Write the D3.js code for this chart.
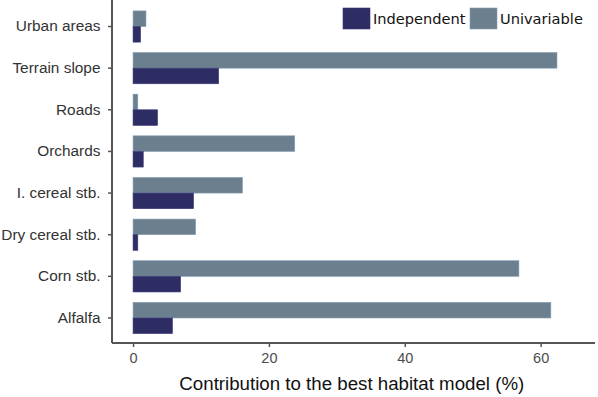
<!DOCTYPE html>
<html lang="en">
<head>
<meta charset="utf-8">
<title>Contribution to the best habitat model</title>
<script src="https://cdn.jsdelivr.net/npm/d3@7"></script>
<style>
  body { margin: 0; background: #fff; }
  svg { display: block; }
</style>
</head>
<body>
<script>
// categories, top to bottom
var categories = ["Urban areas", "Terrain slope", "Roads", "Orchards",
                  "I. cereal stb.", "Dry cereal stb.", "Corn stb.", "Alfalfa"];
var univariable = [1.9, 62.4, 0.7, 23.8, 16.1, 9.2, 56.8, 61.5];
var independent = [1.1, 12.6, 3.6, 1.5, 8.9, 0.7, 7.0, 5.8];
var seriesNames = ["Independent", "Univariable"];
var xTicks = [0, 20, 40, 60];

var w = 598, h = 397;
var colors = { Independent: "#2e2d63", Univariable: "#6b7f8f" };

var svg = d3.select("body").append("svg")
  .attr("width", w)
  .attr("height", h);

// scales
var xScale = d3.scaleLinear().domain([-3.1, 68]).range([112, 595]);
var yScale = d3.scaleBand().domain(categories).range([5.7, 338.8]).paddingInner(0.25).paddingOuter(0.125);
var sub = d3.scaleBand().domain(["Univariable", "Independent"]).range([0, yScale.bandwidth()]);

var rows = categories.map(function(c, i) {
  return { cat: c, Univariable: univariable[i], Independent: independent[i] };
});

// bars
var groups = svg.append("g").selectAll("g")
  .data(rows)
  .enter()
  .append("g")
  .attr("transform", function(d) { return "translate(0," + yScale(d.cat) + ")"; });

groups.selectAll("rect")
  .data(function(d) {
    return ["Univariable", "Independent"].map(function(k) { return { key: k, value: d[k] }; });
  })
  .enter()
  .append("rect")
  .attr("x", xScale(0))
  .attr("y", function(d) { return sub(d.key); })
  .attr("width", function(d) { return xScale(d.value) - xScale(0); })
  .attr("height", sub.bandwidth())
  .attr("fill", function(d) { return colors[d.key]; })
  .attr("stroke", function(d) { return d3.color(colors[d.key]).brighter(0.6); })
  .attr("stroke-width", 0.6);

// axes
var xAxis = d3.axisBottom(xScale).tickValues(xTicks).tickSize(4).tickPadding(6);
var yAxis = d3.axisLeft(yScale).tickSize(4).tickPadding(7.5);

var gx = svg.append("g")
  .attr("transform", "translate(0,343)")
  .call(xAxis);
gx.select(".domain").attr("d", "M112,0H595");

var gy = svg.append("g")
  .attr("transform", "translate(112,0)")
  .call(yAxis);
gy.select(".domain").attr("d", "M0,0V343");

svg.selectAll(".domain").attr("stroke", "#555").attr("stroke-width", 2);
svg.selectAll(".tick line").attr("stroke", "#555").attr("stroke-width", 1.5);
gx.selectAll(".tick text")
  .attr("fill", "#4d4d4d")
  .style("font-family", "Liberation Sans, Arial, sans-serif")
  .style("font-size", "14.5px");
gy.selectAll(".tick text")
  .attr("fill", "#333")
  .attr("dy", "0.32em")
  .style("font-family", "Liberation Sans, Arial, sans-serif")
  .style("font-size", "15.4px");

// axis title
svg.append("text")
  .attr("x", xScale(32.2))
  .attr("y", 390)
  .attr("text-anchor", "middle")
  .style("font-family", "Liberation Sans, Arial, sans-serif")
  .style("font-size", "18.7px")
  .attr("fill", "#111")
  .text("Contribution to the best habitat model (%)");

// legend
var legend = svg.append("g").selectAll("g")
  .data(seriesNames)
  .enter()
  .append("g")
  .attr("transform", function(d, i) { return "translate(" + [343, 470][i] + ",8)"; });

legend.append("rect")
  .attr("width", 27)
  .attr("height", 21)
  .attr("fill", function(d) { return colors[d]; })
  .attr("stroke", function(d) { return d3.color(colors[d]).brighter(0.6); })
  .attr("stroke-width", 0.6);

legend.append("text")
  .attr("x", 30)
  .attr("y", 16)
  .style("font-family", "DejaVu Sans, Verdana, sans-serif")
  .style("font-size", "14.6px")
  .attr("fill", "#111")
  .text(function(d) { return d; });
</script>
</body>
</html>
